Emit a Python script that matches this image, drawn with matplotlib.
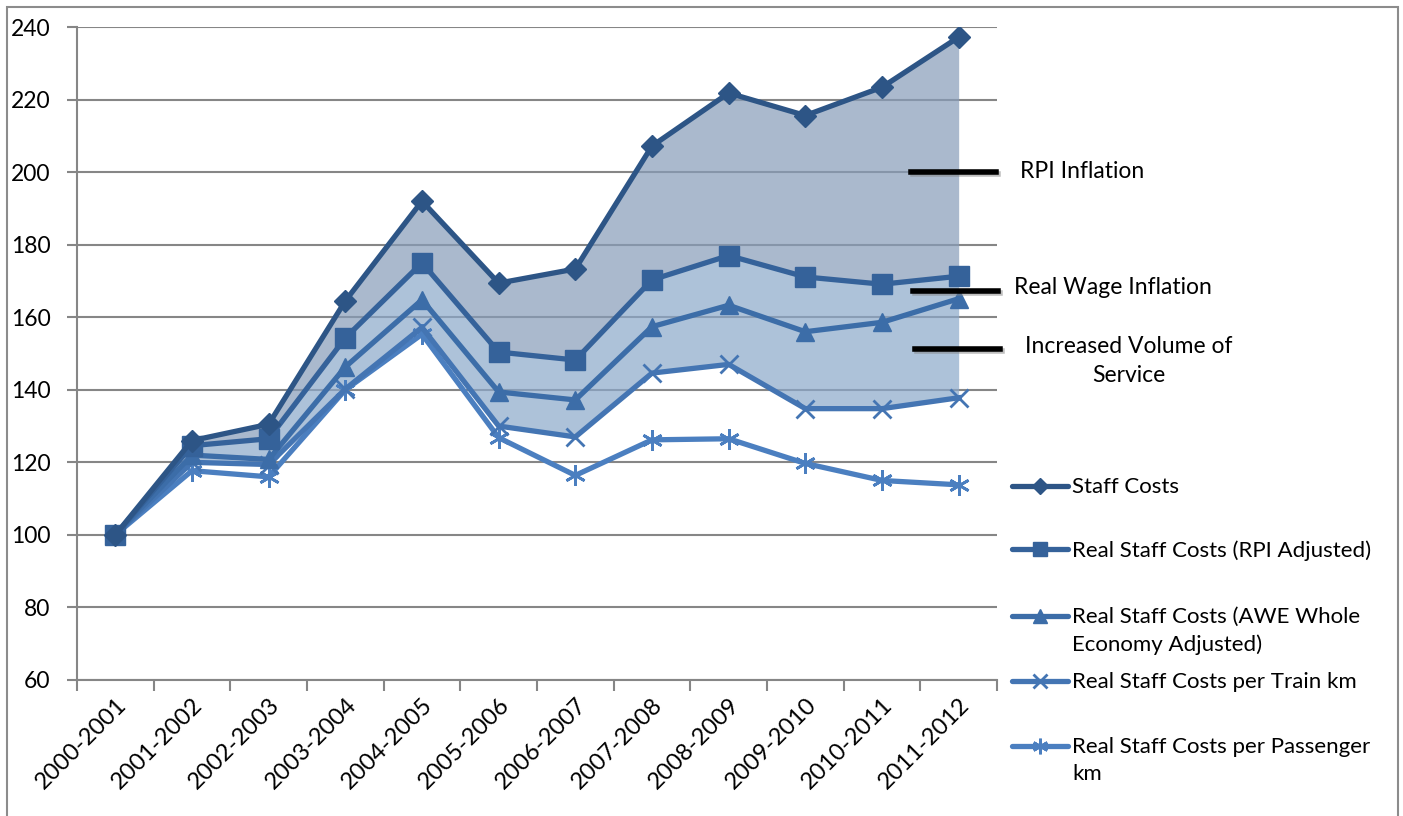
import matplotlib
matplotlib.use("Agg")
import matplotlib.pyplot as plt
from matplotlib.lines import Line2D
from matplotlib.patches import Rectangle
import matplotlib.patheffects as pe
import numpy as np

plt.rcParams['font.family'] = ['Lato', 'DejaVu Sans']

years = ["2000-2001", "2001-2002", "2002-2003", "2003-2004", "2004-2005", "2005-2006",
         "2006-2007", "2007-2008", "2008-2009", "2009-2010", "2010-2011", "2011-2012"]
staff_costs = [100, 126, 130.5, 164.5, 192, 169.4, 173.3, 207.2, 221.8, 215.6, 223.4, 237.2]
rpi_adjusted = [100, 124.6, 126.5, 154.3, 175, 150.4, 148.2, 170.3, 177, 171.1, 169.1, 171.3]
awe_adjusted = [100, 122, 120.8, 146.3, 164.8, 139.4, 137.2, 157.4, 163.3, 156, 158.6, 165.1]
train_km = [100, 120, 119.4, 140.2, 157.2, 130, 127, 144.6, 147, 134.8, 134.8, 137.8]
passenger_km = [100, 117.7, 116, 140, 155.3, 126.8, 116.4, 126.2, 126.5, 119.7, 115, 113.8]

labels = ["Staff Costs", "Real Staff Costs (RPI Adjusted)",
          "Real Staff Costs (AWE Whole\nEconomy Adjusted)",
          "Real Staff Costs per Train km",
          "Real Staff Costs per Passenger\nkm"]
annot_texts = ["RPI Inflation", "Real Wage Inflation", "Increased Volume of\nService"]
yticks = [60, 80, 100, 120, 140, 160, 180, 200, 220, 240]

series = [staff_costs, rpi_adjusted, awe_adjusted, train_km, passenger_km]
colors = ["#2d5586", "#35629a", "#3c6da8", "#4475b3", "#4b7fc0"]
markers = ["D", "s", "^", "x", (6, 2, 0)]
msizes = [11, 14, 13, 13, 15]
mews = [1, 1, 1, 2, 2]

FS = 16
W, H = 1403, 816
fig = plt.figure(figsize=(W / 100, H / 100), dpi=100)
ax = fig.add_axes([77 / W, 1 - 680 / H, (997 - 77) / W, (680 - 27) / H])

x = np.arange(len(years))

# fills
a = 0.7
def blend(target):
    return tuple(max(0, min(1, (t / 255 - (1 - a)) / a)) for t in target)

ax.fill_between(x, rpi_adjusted, staff_costs, color=blend((170, 186, 205)), alpha=a,
                lw=0, zorder=2)
ax.fill_between(x, train_km, rpi_adjusted, color=blend((174, 194, 218)), alpha=a,
                lw=0, zorder=2)

# lines
order = [4, 3, 2, 1, 0]
for i in order:
    ax.plot(x, series[i], color=colors[i], lw=3.8, marker=markers[i], ms=msizes[i],
            mew=mews[i], mec=colors[i], mfc=colors[i], zorder=4 + (4 - i),
            solid_joinstyle='round')

ax.set_xlim(-0.5, len(years) - 0.5)
ax.set_ylim(60, 240)
ax.set_yticks(yticks)
ax.set_yticklabels([str(v) for v in yticks], fontsize=FS + 0.5)
ax.yaxis.grid(True, color="#868686", lw=1.5, zorder=1)
ax.set_axisbelow(True)
ax.set_xticks(x)
ax.set_xticklabels(years, rotation=45, ha='right', rotation_mode='anchor', fontsize=17)
ax.set_xticks(np.arange(-0.5, len(years), 1), minor=True)
ax.tick_params(axis='x', which='major', length=0, pad=10)
ax.tick_params(axis='x', which='minor', length=8, width=1.5, color="#868686")
ax.tick_params(axis='y', length=7, width=1.5, color="#868686", pad=12)
for s in ["top", "right"]:
    ax.spines[s].set_visible(False)
for s in ["left", "bottom"]:
    ax.spines[s].set_color("#868686")
    ax.spines[s].set_linewidth(1.5)

# legend (manual)
leg_y = [486, 549, 616, 681, 746]
for i, yy in enumerate(leg_y):
    yf = 1 - yy / H
    ln = Line2D([1012 / W, 1040 / W, 1068 / W], [yf, yf, yf], transform=fig.transFigure,
                color=colors[i], lw=3.8, marker=markers[i], markevery=[1],
                ms=msizes[i] * 0.75, mew=mews[i], mec=colors[i], mfc=colors[i],
                solid_capstyle='round')
    fig.add_artist(ln)
    fig.text(1072 / W, 1 - (yy - 9) / H, labels[i], fontsize=FS, va='top', ha='left',
             linespacing=1.45)

# annotations
ann = [(911, 996, 172, 1020, 172, 'left'), (913, 998, 291, 1014, 287, 'left'),
       (915, 1000, 349, 1129, 361, 'center')]
shadow = [pe.SimpleLineShadow(offset=(1.5, -1.5), shadow_color='gray', alpha=0.5), pe.Normal()]
for (x0, x1, yl, tx, ty, ha), t in zip(ann, annot_texts):
    ln = Line2D([x0 / W, x1 / W], [1 - yl / H, 1 - yl / H], transform=fig.transFigure,
                color='black', lw=4, path_effects=shadow, zorder=20)
    fig.add_artist(ln)
    fig.text(tx / W, 1 - ty / H, t, fontsize=FS + 0.5, va='center', ha=ha, linespacing=1.45,
             zorder=20)

# outer border
fig.add_artist(Rectangle((7 / W, -0.01), (1398 - 7) / W, 1 - 7 / H + 0.01,
                         transform=fig.transFigure, fill=False, ec="#8c8c8c", lw=1.5))

fig.savefig("out.png", dpi=100)
